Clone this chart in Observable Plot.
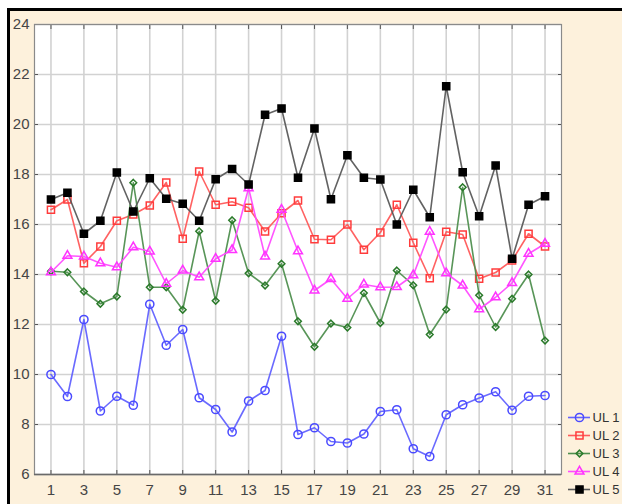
<!DOCTYPE html>
<html>
<head>
<meta charset="utf-8">
<script src="https://cdn.jsdelivr.net/npm/d3@7"></script>
<script src="https://cdn.jsdelivr.net/npm/@observablehq/plot@0.6"></script>
<style>
  html, body { margin: 0; padding: 0; background: #fff; }
  #page { position: relative; width: 622px; height: 504px; overflow: hidden; background: #fff; }
  #panel { position: absolute; left: 7px; top: 8px; right: 0; bottom: 0;
           border-left: 3px solid #000; border-top: 3px solid #000; background: #fdf1dc; }
  #chart { position: absolute; left: 0; top: 0; }
  #legend { position: absolute; left: 560px; top: 404px; }
  svg { overflow: visible; }
</style>
</head>
<body>
<div id="page">
  <div id="panel"></div>
  <div id="chart"></div>
  <div id="legend"></div>
</div>
<script>
const days = [1,2,3,4,5,6,7,8,9,10,11,12,13,14,15,16,17,18,19,20,21,22,23,24,25,26,27,28,29,30,31];
const xTicks = [1,3,5,7,9,11,13,15,17,19,21,23,25,27,29,31];
const yTicks = [6,8,10,12,14,16,18,20,22,24];
const seriesNames = ["UL 1","UL 2","UL 3","UL 4","UL 5"];

const UL1 = [10.0, 9.12, 12.2, 8.54, 9.13, 8.77, 12.81, 11.17, 11.8, 9.07, 8.6, 7.7, 8.94, 9.36, 11.53, 7.6, 7.87, 7.32, 7.26, 7.62, 8.52, 8.59, 7.03, 6.72, 8.39, 8.79, 9.06, 9.31, 8.57, 9.13, 9.16];
const UL2 = [16.59, 17.0, 14.45, 15.12, 16.15, 16.4, 16.76, 17.68, 15.43, 18.12, 16.79, 16.91, 16.67, 15.72, 16.45, 16.96, 15.41, 15.39, 16.0, 14.99, 15.68, 16.79, 15.27, 13.85, 15.71, 15.6, 13.83, 14.08, 14.56, 15.63, 15.12];
const UL3 = [14.13, 14.09, 13.32, 12.83, 13.12, 17.67, 13.49, 13.49, 12.59, 15.73, 12.95, 16.17, 14.05, 13.56, 14.43, 12.13, 11.11, 12.04, 11.88, 13.26, 12.06, 14.16, 13.57, 11.6, 12.6, 17.49, 13.17, 11.9, 13.03, 14.0, 11.36];
const UL4 = [14.09, 14.75, 14.72, 14.45, 14.29, 15.09, 14.92, 13.63, 14.16, 13.89, 14.63, 14.98, 17.45, 14.72, 16.59, 14.93, 13.36, 13.82, 13.03, 13.6, 13.49, 13.5, 13.97, 15.71, 14.05, 13.56, 12.61, 13.09, 13.66, 14.83, 15.23];
const UL5 = [17.0, 17.27, 15.63, 16.15, 18.08, 16.52, 17.85, 17.03, 16.83, 16.15, 17.81, 18.22, 17.6, 20.39, 20.64, 17.87, 19.84, 17.01, 18.77, 17.87, 17.8, 16.0, 17.39, 16.29, 21.53, 18.09, 16.33, 18.36, 14.63, 16.79, 17.13];

const styles = {
  "UL 1": {line: "#6262ff", mark: "#4a4aff", symbol: "circle",   r: 4.1, fill: "none"},
  "UL 2": {line: "#ff5a5a", mark: "#ff3c3c", symbol: "square",   r: 4.0, fill: "none"},
  "UL 3": {line: "#4f8f4f", mark: "#2a7a2a", symbol: "diamond2", r: 3.0, fill: "none"},
  "UL 4": {line: "#ff4cff", mark: "#ff33ff", symbol: "triangle", r: 3.3, fill: "none"},
  "UL 5": {line: "#5a5a5a", mark: "#000000", symbol: "square",   r: 4.0, fill: "#000000"}
};

const seriesValues = [UL1, UL2, UL3, UL4, UL5];
const rows = [];
seriesNames.forEach((s, i) => days.forEach((d, j) => rows.push({series: s, day: d, value: seriesValues[i][j]})));

const FONT = "'Liberation Sans Narrow', 'Arial Narrow', 'Liberation Sans', Arial, sans-serif";

const seriesMarks = seriesNames.flatMap(s => {
  const st = styles[s];
  const data = rows.filter(r => r.series === s);
  return [
    Plot.line(data, {x: "day", y: "value", stroke: st.line, strokeWidth: 1.6, strokeOpacity: 0.95}),
    Plot.dot(data, {x: "day", y: "value", symbol: () => st.symbol, r: st.r, stroke: st.mark, strokeWidth: 1.5, fill: st.fill})
  ];
});

const chart = Plot.plot({
  width: 622,
  height: 504,
  marginLeft: 34,
  marginRight: 61,
  marginTop: 24,
  marginBottom: 30,
  style: {background: "transparent", fontFamily: FONT, fontSize: "14px", color: "#444", overflow: "visible"},
  x: {domain: [0, 32]},
  y: {domain: [6, 24]},
  symbol: {type: "identity"},
  marks: [
    Plot.frame({fill: "#ffffff"}),
    Plot.gridX(xTicks, {stroke: "#d2d2d2", strokeOpacity: 1, strokeWidth: 1.6}),
    Plot.gridY(yTicks, {stroke: "#d2d2d2", strokeOpacity: 1, strokeWidth: 1.6}),
    Plot.axisX(xTicks, {anchor: "bottom", tickSize: 4, dy: -4, text: null, label: null, stroke: "#555"}),
    Plot.axisX(xTicks, {anchor: "top", tickSize: 4, dy: 4, text: null, label: null, stroke: "#555"}),
    Plot.axisY(yTicks, {anchor: "left", tickSize: 4, dx: 4, text: null, label: null, stroke: "#555"}),
    Plot.axisY(yTicks, {anchor: "right", tickSize: 4, dx: -4, text: null, label: null, stroke: "#555"}),
    Plot.axisX(xTicks, {anchor: "bottom", tickSize: 0, tickPadding: 10, label: null, fill: "#454545", fontSize: 15, fontFamily: FONT}),
    Plot.axisY(yTicks, {anchor: "left", tickSize: 0, tickPadding: 5, label: null, fill: "#454545", fontSize: 15, fontFamily: FONT}),
    ...seriesMarks,
    Plot.frame({stroke: "#8a8a8a", strokeWidth: 1.2}),
    Plot.ruleY([6], {stroke: "#6a6a6a", strokeWidth: 1.6})
  ]
});
document.getElementById("chart").append(chart);

const legendRows = seriesNames.map(s => ({series: s}));
const legend = Plot.plot({
  width: 62,
  height: 96,
  margin: 0,
  style: {background: "transparent", fontFamily: FONT, fontSize: "13px", overflow: "visible"},
  x: {domain: [0, 1], range: [8, 30], axis: null},
  y: {domain: seriesNames, type: "point", padding: 0, range: [12, 86], axis: null},
  symbol: {type: "identity"},
  marks: [
    ...seriesNames.map(s => Plot.ruleY(legendRows.filter(r => r.series === s), {y: "series", x1: 0, x2: 1, stroke: styles[s].line, strokeWidth: 1.6})),
    ...seriesNames.map(s => Plot.dot(legendRows.filter(r => r.series === s), {x: 0.5, y: "series", symbol: () => styles[s].symbol, r: styles[s].r, stroke: styles[s].mark, strokeWidth: 1.5, fill: styles[s].fill})),
    Plot.text(legendRows, {x: 1, y: "series", text: "series", dx: 2, textAnchor: "start", fill: "#333", fontSize: 13, fontFamily: FONT})
  ]
});
document.getElementById("legend").append(legend);
</script>
</body>
</html>
